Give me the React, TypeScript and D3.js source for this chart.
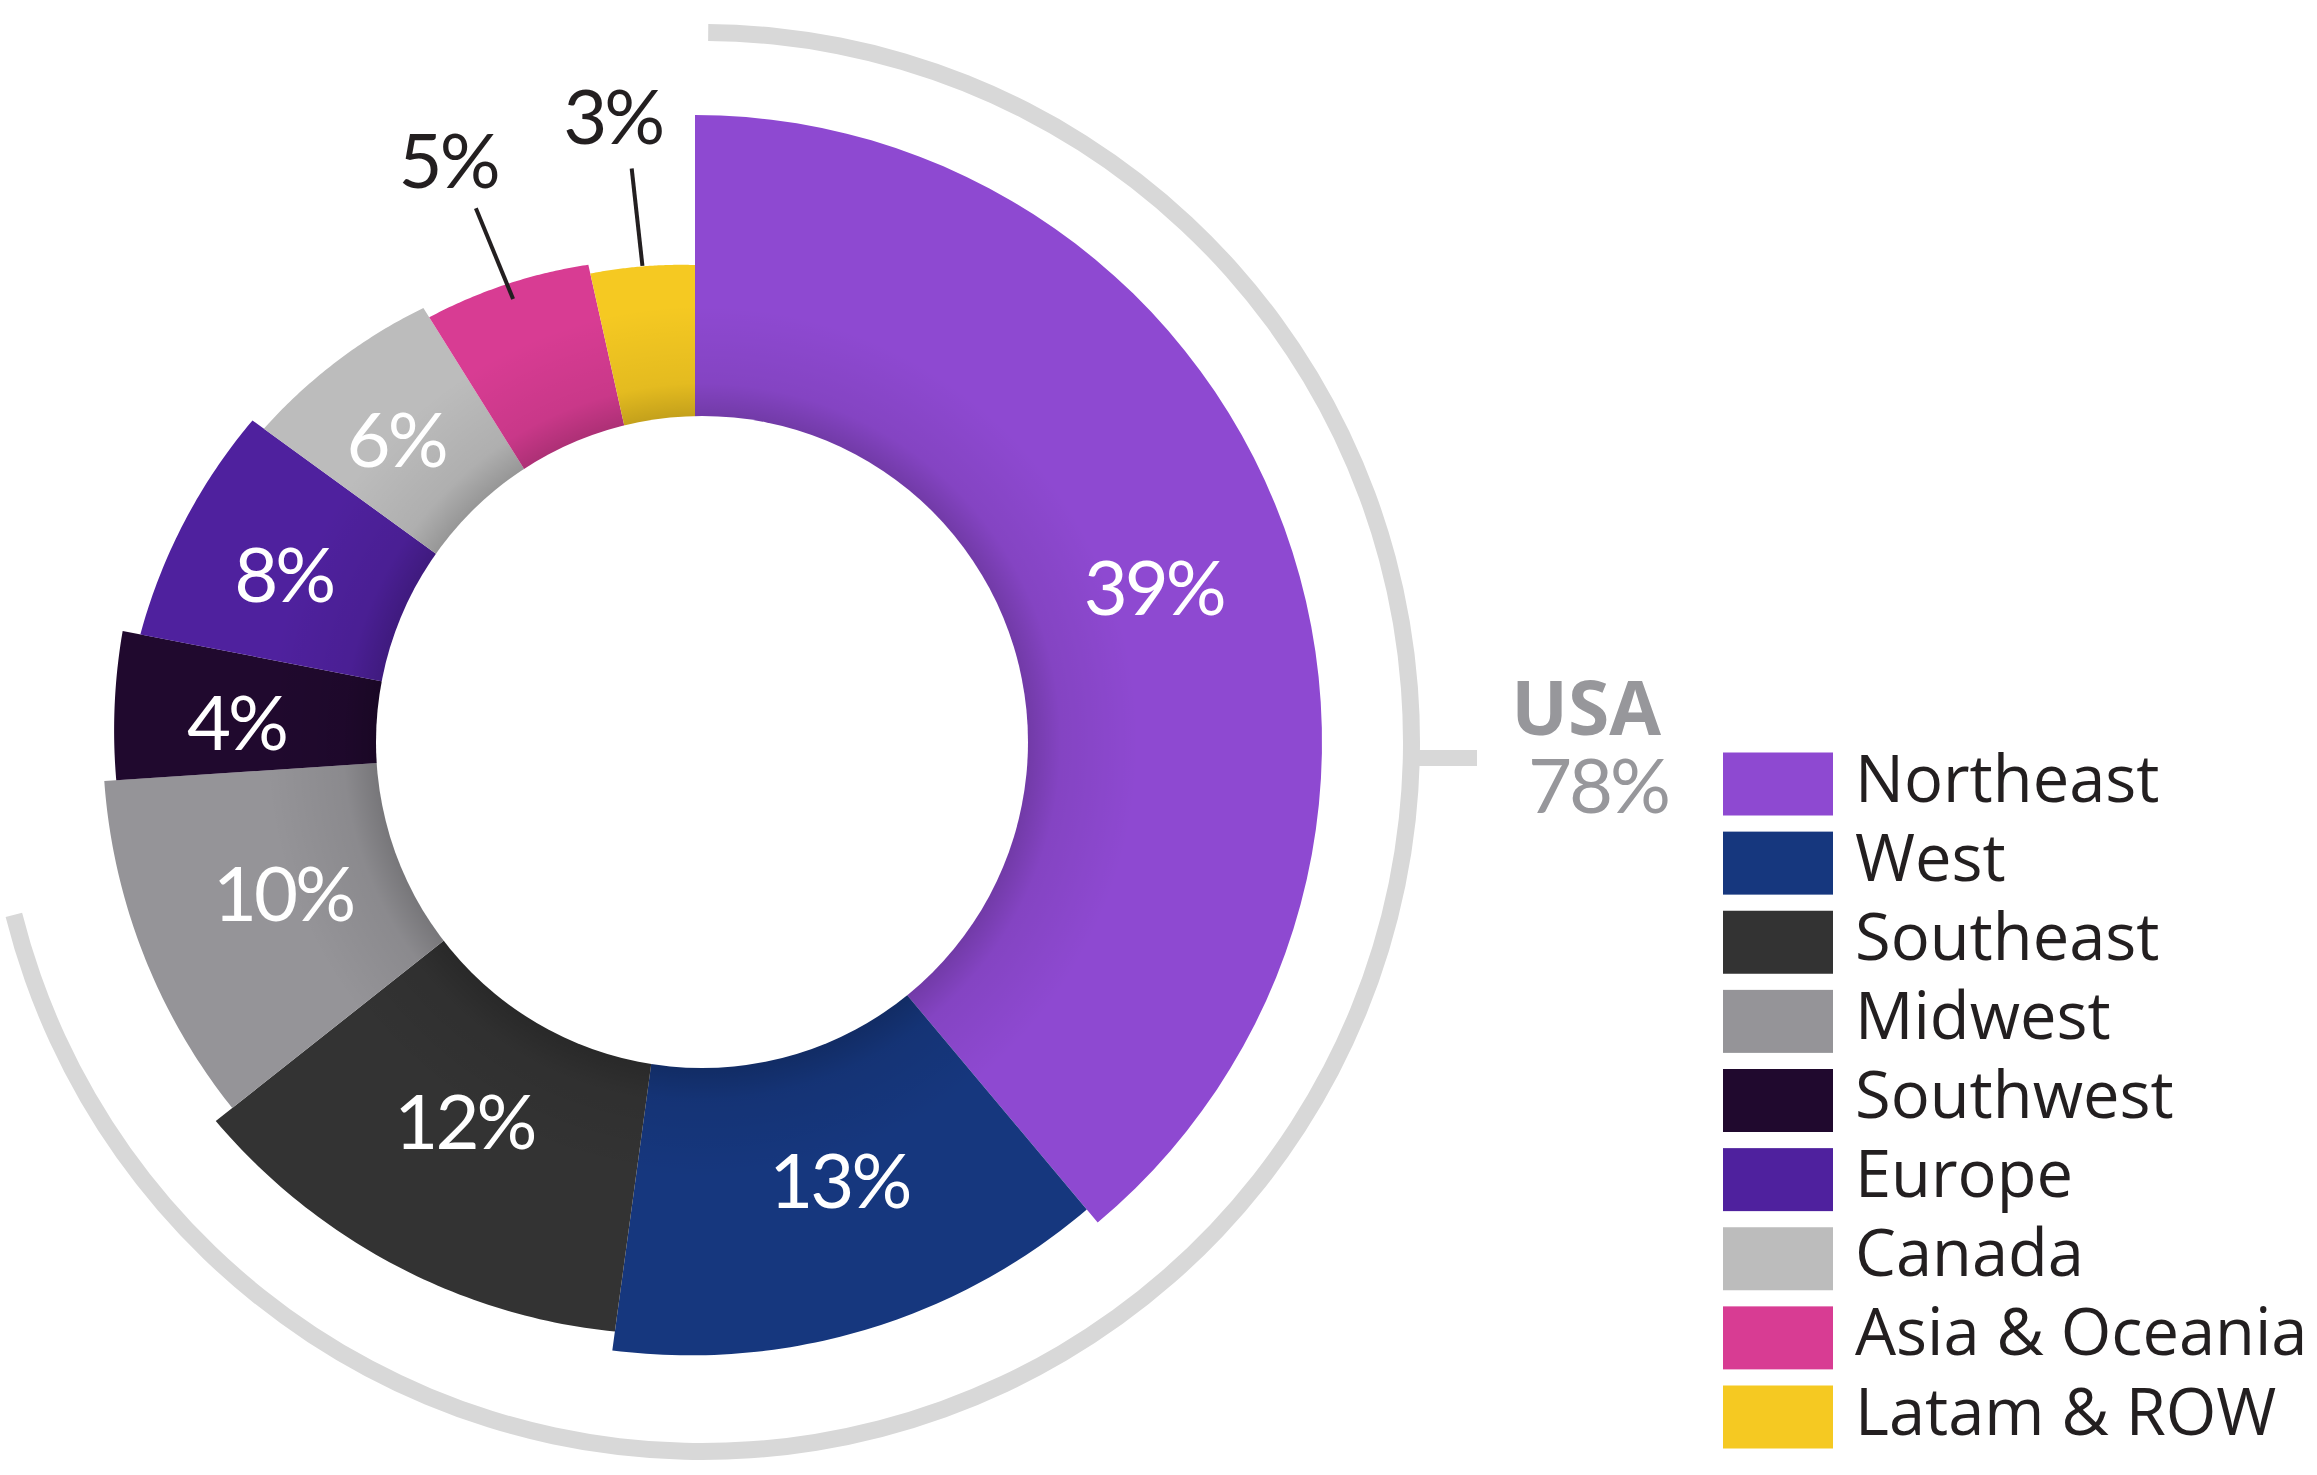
import React from 'react';
import * as d3 from 'd3';

// region names and the printed percentages
const regions = ['Northeast', 'West', 'Southeast', 'Midwest', 'Southwest', 'Europe', 'Canada', 'Asia & Oceania', 'Latam & ROW'];
const labels = ['39%', '13%', '12%', '10%', '4%', '8%', '6%', '5%', '3%'];
// unrounded shares
const shares = [38.9, 13.25, 12.2, 9.6, 4.1, 6.95, 6.1, 5.4, 3.5];
const colors = ['#8e49d1', '#16377e', '#333333', '#959498', '#20092e', '#4f219e', '#bcbcbc', '#d83c93', '#f5c922'];

const usaLabel = 'USA';
const usaValue = '78%';

// the slices are not concentric, so the outer edge drifts along each one
const radiusStart = [627, 610, 595, 590, 580, 565, 533, 501, 480];
const radiusEnd = [627, 614, 611, 592, 583, 547, 512, 489, 477];
// label positions around the centre
const labelRadius = [484, 462, 444, 439, 459, 444, 425, 632, 631];
const labelAngle = [71.4, 161.8, 211.3, 249.8, 272.4, 292.1, 315.3, 337, 352.5];

const width = 2317;
const height = 1475;
const cx = 695;
const cy = 742;
const holeX = 702;
const holeY = 742;
const holeR = 326;
const toRad = (deg: number) => (deg * Math.PI) / 180;

const pie = d3.pie<number>().sort(null).value((d) => d);
const slices = pie(shares);

const radial = d3.lineRadial<[number, number]>().angle((d) => d[0]).radius((d) => d[1]);

function slicePath(i: number) {
    const { startAngle, endAngle } = slices[i];
    const r = d3.scaleLinear().domain([startAngle, endAngle]).range([radiusStart[i], radiusEnd[i]]);
    const angles = d3.range(0, 61).map((k) => startAngle + ((endAngle - startAngle) * k) / 60);
    const outer = angles.map((a) => [a, r(a)] as [number, number]);
    const inner = angles.slice().reverse().map((a) => [a, 250] as [number, number]);
    return radial([...outer, ...inner]) + 'Z';
}

const ring = d3.arc()({ innerRadius: 701, outerRadius: 718, startAngle: toRad(0.5), endAngle: toRad(255.9) }) as string;

const legendY = d3.scalePoint<string>().domain(regions).range([752.5, 1385.5]);

const App: React.FC = () => {
    return (
        <svg
            width={width}
            height={height}
            viewBox={`0 0 ${width} ${height}`}
            style={{ position: 'absolute', left: 0, top: 0, background: '#fff' }}
        >
            <defs>
                <radialGradient id="shade" gradientUnits="userSpaceOnUse" cx={holeX - cx} cy={holeY - cy} r={460}>
                    <stop offset={holeR / 460} stopColor="#000" stopOpacity={0.2} />
                    <stop offset={0.78} stopColor="#000" stopOpacity={0.07} />
                    <stop offset={0.95} stopColor="#000" stopOpacity={0} />
                </radialGradient>
            </defs>

            <path d={ring} transform={`translate(${holeX},${holeY})`} fill="#d8d8d8" />
            <line x1={1419} x2={1477} y1={758} y2={758} stroke="#d8d8d8" strokeWidth={16} />

            <g transform={`translate(${cx},${cy})`}>
                {regions.map((name, i) => (
                    <g key={name}>
                        <path d={slicePath(i)} fill={colors[i]} />
                        <path d={slicePath(i)} fill="url(#shade)" />
                    </g>
                ))}
            </g>

            <circle cx={holeX} cy={holeY} r={holeR} fill="#fff" />

            <g transform={`translate(${cx},${cy})`} fontFamily="Lato" fontWeight={400} fontSize={76} letterSpacing={-3} textAnchor="middle">
                {labels.map((label, i) => {
                    const [x, y] = d3.pointRadial(toRad(labelAngle[i]), labelRadius[i]);
                    const outside = labelRadius[i] > 600;
                    // leaders run along the middle of their slice
                    const mid = (slices[i].startAngle + slices[i].endAngle) / 2;
                    const [x1, y1] = d3.pointRadial(mid, 479);
                    const [x2, y2] = d3.pointRadial(mid, 577);
                    return (
                        <g key={regions[i]}>
                            {outside && <line x1={x1} y1={y1} x2={x2} y2={y2} stroke="#231f20" strokeWidth={4} />}
                            <text x={x} y={y} dy="0.36em" fill={outside ? '#231f20' : '#fff'}>{label}</text>
                        </g>
                    );
                })}
            </g>

            <text x={1661} y={735} textAnchor="end" fontFamily="Open Sans" fontWeight={700} fontSize={75} fill="#97979b">{usaLabel}</text>
            <text x={1668} y={813} textAnchor="end" fontFamily="Lato" fontWeight={400} fontSize={76} letterSpacing={-3} fill="#97979b">{usaValue}</text>

            {regions.map((name, i) => (
                <g key={name}>
                    <rect x={1723} y={legendY(name)} width={110} height={63} fill={colors[i]} />
                    <text x={1855} y={(legendY(name) as number) + 49} fontFamily="Open Sans" fontWeight={500} fontSize={65} fill="#231f20">{name}</text>
                </g>
            ))}
        </svg>
    );
};

export default App;
